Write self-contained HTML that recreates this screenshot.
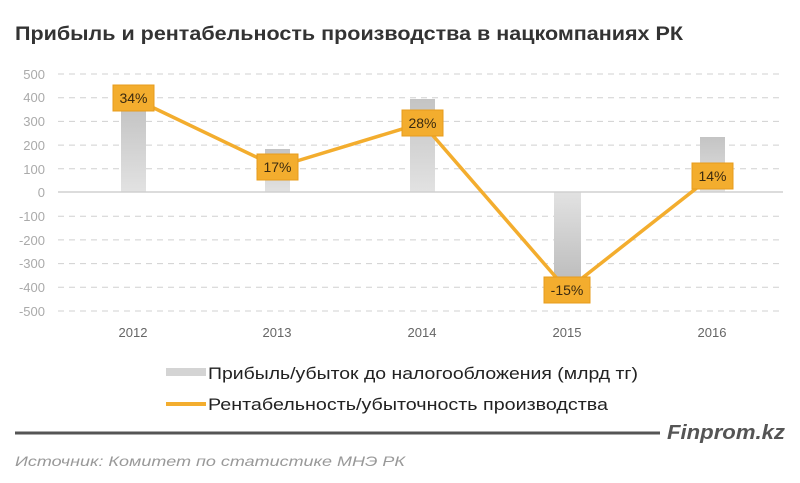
<!DOCTYPE html>
<html><head><meta charset="utf-8"><style>
body{margin:0;background:#fff;}
svg{display:block;font-family:"Liberation Sans",sans-serif;}
</style></head><body>
<svg width="800" height="483" viewBox="0 0 800 483">
<defs>
<linearGradient id="g" x1="0" y1="0" x2="0" y2="1"><stop offset="0" stop-color="#c4c4c4"/><stop offset="1" stop-color="#e2e2e2"/></linearGradient>
<linearGradient id="g2" x1="0" y1="0" x2="0" y2="1"><stop offset="0" stop-color="#e2e2e2"/><stop offset="1" stop-color="#bdbdbd"/></linearGradient>
</defs>
<text x="15" y="40" font-size="19" font-weight="bold" fill="#333" textLength="668" lengthAdjust="spacingAndGlyphs">Прибыль  и рентабельность производства в нацкомпаниях РК</text>
<g stroke="#d0d0d0" stroke-width="1" stroke-dasharray="6,5">
<line x1="58" x2="783" y1="74" y2="74"/><line x1="58" x2="783" y1="97.7" y2="97.7"/><line x1="58" x2="783" y1="121.4" y2="121.4"/><line x1="58" x2="783" y1="145.1" y2="145.1"/><line x1="58" x2="783" y1="168.8" y2="168.8"/>
<line x1="58" x2="783" y1="216.2" y2="216.2"/><line x1="58" x2="783" y1="239.9" y2="239.9"/><line x1="58" x2="783" y1="263.6" y2="263.6"/><line x1="58" x2="783" y1="287.3" y2="287.3"/><line x1="58" x2="783" y1="311" y2="311"/>
</g>
<g fill="#aaa" font-size="13" text-anchor="end">
<text x="45" y="79">500</text><text x="45" y="102">400</text><text x="45" y="126">300</text><text x="45" y="150">200</text><text x="45" y="174">100</text><text x="45" y="197">0</text>
<text x="45" y="221">-100</text><text x="45" y="245">-200</text><text x="45" y="268">-300</text><text x="45" y="292">-400</text><text x="45" y="316">-500</text>
</g>
<rect x="121" y="108" width="25" height="84" fill="url(#g)"/>
<rect x="265" y="149" width="25" height="43" fill="url(#g)"/>
<rect x="410" y="99" width="25" height="93" fill="url(#g)"/>
<rect x="554" y="192" width="27" height="88" fill="url(#g2)"/>
<rect x="700" y="137" width="25" height="55" fill="url(#g)"/>
<line x1="58" x2="783" y1="192" y2="192" stroke="#d0d0d0" stroke-width="1.5"/>
<polyline points="133,98 277,167 422,123 567,290 712,176" fill="none" stroke="#f3ad2e" stroke-width="3.5" stroke-linejoin="round"/>
<g fill="#f3ad2e" stroke="#e79c1c" stroke-width="1">
<rect x="113" y="85" width="41" height="26"/><rect x="257" y="154" width="41" height="26"/><rect x="402" y="110" width="41" height="26"/><rect x="544" y="277" width="46" height="26"/><rect x="692" y="163" width="41" height="26"/>
</g>
<g fill="#3a2a10" font-size="14" text-anchor="middle">
<text x="133.5" y="103">34%</text><text x="277.5" y="172">17%</text><text x="422.5" y="128">28%</text><text x="567" y="295">-15%</text><text x="712.5" y="181">14%</text>
</g>
<g fill="#666" font-size="13" text-anchor="middle">
<text x="133" y="337">2012</text><text x="277" y="337">2013</text><text x="422" y="337">2014</text><text x="567" y="337">2015</text><text x="712" y="337">2016</text>
</g>
<rect x="166" y="368" width="40" height="8" fill="#d4d4d4"/>
<text x="208" y="379" font-size="17" fill="#222" textLength="430" lengthAdjust="spacingAndGlyphs">Прибыль/убыток до налогообложения (млрд тг)</text>
<line x1="166" x2="206" y1="404" y2="404" stroke="#f3ad2e" stroke-width="4"/>
<text x="208" y="410" font-size="17" fill="#222" textLength="400" lengthAdjust="spacingAndGlyphs">Рентабельность/убыточность производства</text>
<line x1="15" x2="660" y1="433" y2="433" stroke="#555" stroke-width="3"/>
<text x="667" y="439" font-size="20" font-weight="bold" font-style="italic" fill="#555" textLength="118" lengthAdjust="spacingAndGlyphs">Finprom.kz</text>
<text x="15" y="466" font-size="14" font-style="italic" fill="#999" textLength="390" lengthAdjust="spacingAndGlyphs">Источник:  Комитет по статистике МНЭ РК</text>
</svg>
</body></html>
